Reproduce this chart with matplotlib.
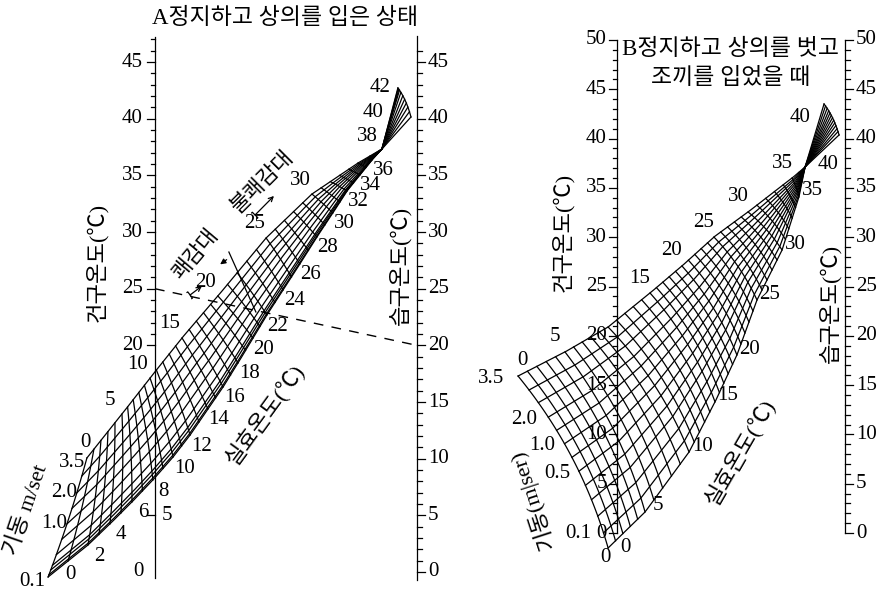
import numpy as np
import matplotlib.pyplot as plt

plt.rcParams['font.family'] = ['Liberation Serif', 'Noto Sans CJK KR']

# 가로: 건구온도 눈금 = 0, 습구온도 눈금 = 1 / 세로: 온도(℃)

# ---- A 정지하고 상의를 입은 상태 ----
# 기류 0.1 가장자리 위의 실효온도 점
a_lo_et = [0, 2, 4, 6, 8, 10, 12, 14, 16, 18, 20, 22, 24, 26, 28, 30, 32, 34, 36, 37]
a_lo_x = [-0.408, -0.256, -0.172, -0.088, -0.008, 0.069, 0.134, 0.202, 0.260, 0.317,
          0.374, 0.427, 0.489, 0.553, 0.618, 0.679, 0.733, 0.782, 0.828, 0.866]
a_lo_t = [-0.44, 2.38, 4.24, 6.18, 8.12, 10.15, 12.09, 14.39, 16.33, 18.45,
          20.65, 22.68, 24.89, 27.19, 29.57, 31.69, 33.63, 35.04, 36.37, 37.33]
# 기류 3.5 가장자리
a_up_et = [0, 5, 10, 15, 20, 25, 30, 35, 37]
a_up_x = [-0.260, -0.126, -0.019, 0.103, 0.240, 0.424, 0.599, 0.775, 0.866]
a_up_t = [10.06, 13.94, 17.12, 20.66, 24.36, 29.48, 33.36, 36.1, 37.33]
a_vel = [0.1, 0.2, 0.3, 0.4, 0.6, 0.8, 1.0, 1.5, 2.0, 2.5, 3.5]
a_vel_frac = [0, 0.02, 0.06, 0.1, 0.19, 0.32, 0.45, 0.58, 0.71, 0.85, 1.0]
a_vel_lab = [0.1, 1.0, 2.0, 3.5]
a_fan_tip = (0.927, 42.72)
a_fan_end = (0.977, 40.16)
a_fan_et = 42
a_lo_lab = list(range(0, 37, 2))
a_up_lab = [0, 5, 10, 15, 20, 25, 30]
a_fan_lab = [38, 40, 42]

# ---- B 정지하고 상의를 벗고 조끼를 입었을 때 ----
b_lo_et = [0, 5, 10, 15, 20, 25, 30, 35, 37]
b_lo_x = [-0.039, 0.123, 0.316, 0.430, 0.526, 0.614, 0.724, 0.798, 0.825]
b_lo_t = [-1.52, 2.13, 8.21, 13.29, 18.05, 23.63, 28.7, 34.08, 37.12]
b_up_et = [0, 5, 10, 15, 20, 25, 30, 35, 37]
b_up_x = [-0.434, -0.228, -0.039, 0.145, 0.285, 0.425, 0.575, 0.768, 0.825]
b_up_t = [15.92, 18.36, 20.89, 24.34, 27.08, 30.02, 32.56, 36.0, 37.12]
b_vel = [0, 0.1, 0.2, 0.3, 0.4, 0.5, 0.75, 1.0, 1.5, 2.0, 2.5, 3.0, 3.5]
b_vel_frac = [0, 0.08, 0.17, 0.26, 0.34, 0.42, 0.5, 0.58, 0.66, 0.74, 0.83, 0.91, 1.0]
b_vel_lab = [0.1, 0.5, 1.0, 2.0, 3.5]
b_fan_tip = (0.908, 43.51)
b_fan_end = (0.974, 40.37)
b_fan_et = 43
b_lo_lab = [0, 5, 10, 15, 20, 25, 30, 35]
b_up_lab = [0, 5, 15, 20, 25, 30, 35]

LW = 0.9
FS = 15


def mesh_pt(e, v, lo, up, bow, sx, sy):
    lo_et, lo_x, lo_t = lo
    up_et, up_x, up_t = up
    emax = lo_et[-1]
    lx, lt = np.interp(e, lo_et, lo_x), np.interp(e, lo_et, lo_t)
    ux, ut = np.interp(e, up_et, up_x), np.interp(e, up_et, up_t)
    dx, dy = (ux - lx) * sx, (ut - lt) * sy
    n = np.hypot(dx, dy) + 1e-9
    b = bow * (1 - e / emax)
    cx = (lx + ux) / 2 + b * dy / n / sx
    ct = (lt + ut) / 2 - b * dx / n / sy
    x = (1 - v) ** 2 * lx + 2 * v * (1 - v) * cx + v ** 2 * ux
    t = (1 - v) ** 2 * lt + 2 * v * (1 - v) * ct + v ** 2 * ut
    return x, t


def fan_pt(v, conv, tip, end, bulge, sx, sy):
    mx, mt = (tip[0] + end[0]) / 2, (tip[1] + end[1]) / 2
    dx, dy = (mx - conv[0]) * sx, (mt - conv[1]) * sy
    n = np.hypot(dx, dy)
    cx, ct = mx + bulge * dx / n / sx, mt + bulge * dy / n / sy
    x = (1 - v) ** 2 * tip[0] + 2 * v * (1 - v) * cx + v ** 2 * end[0]
    t = (1 - v) ** 2 * tip[1] + 2 * v * (1 - v) * ct + v ** 2 * end[1]
    return x, t


def draw_mesh(ax, lo, up, vfrac, bow, tip, end, bulge, sx, sy):
    emax = lo[0][-1]
    ef = np.linspace(0, emax, 300)
    vf = np.linspace(0, 1, 60)
    for v in vfrac:
        ax.plot(*mesh_pt(ef, v, lo, up, bow, sx, sy), color='k', lw=LW)
    for e in np.arange(0, emax):
        ax.plot(*mesh_pt(e, vf, lo, up, bow, sx, sy), color='k', lw=LW)
    conv = (lo[1][-1], lo[2][-1])
    for v in vfrac:
        fx, ft = fan_pt(v, conv, tip, end, bulge, sx, sy)
        ax.plot([conv[0], fx], [conv[1], ft], color='k', lw=LW)
    ax.plot(*fan_pt(vf, conv, tip, end, bulge, sx, sy), color='k', lw=LW)
    return conv


def scale(ax, x, t0, t1, ticks, side, sx, lab=None, lab_off=11):
    ax.plot([x, x], [t0, t1], color='k', lw=LW)
    for t in ticks:
        ln = 8 if t % 5 == 0 else 4.5
        ax.plot([x, x + side * ln / sx], [t, t], color='k', lw=LW)
    if lab is not None:
        for t in lab:
            ax.annotate(str(t), (x, t), xytext=(side * lab_off, 0), textcoords='offset pixels',
                        ha='left' if side > 0 else 'right', va='center', fontsize=FS)


def put(ax, txt, p, off, fs=FS, **kw):
    ax.annotate(txt, p, xytext=off, textcoords='offset pixels',
                ha='center', va='center', fontsize=fs, **kw)


fig = plt.figure(figsize=(8.83, 5.93), dpi=100)

# ---------------- A ----------------
sxa, sya = 262.0, 11.33
axa = fig.add_axes([0, 0, 1, 1])
axa.set_xlim(-155 / sxa, 728 / sxa)
axa.set_ylim(-21 / sya, 572 / sya)
axa.axis('off')

lo_a = (a_lo_et, a_lo_x, a_lo_t)
up_a = (a_up_et, a_up_x, a_up_t)
conv_a = draw_mesh(axa, lo_a, up_a, a_vel_frac, 3, a_fan_tip, a_fan_end, 4, sxa, sya)

scale(axa, 0, -0.5, 47.2, list(range(20, 48)) + [5], -1, sxa,
      lab=[20, 25, 30, 35, 40, 45], lab_off=12)
axa.annotate('5', (0, 5), xytext=(7, 0), textcoords='offset pixels',
             ha='left', va='center', fontsize=FS)
axa.annotate('0', (0, 0), xytext=(-11, 0), textcoords='offset pixels',
             ha='right', va='center', fontsize=FS)
scale(axa, 1, -0.7, 47.3, range(0, 47), 1, sxa, lab=range(0, 46, 5), lab_off=11)

for e in a_lo_lab:
    p = (np.interp(e, a_lo_et, a_lo_x), np.interp(e, a_lo_et, a_lo_t))
    put(axa, str(e), p, (22, 2) if e == 0 else (11, -11))
for e in a_up_lab:
    p = (np.interp(e, a_up_et, a_up_x), np.interp(e, a_up_et, a_up_t))
    put(axa, str(e), p, (-1, 16) if e == 0 else (-12, 14))
for e in a_fan_lab:
    f = (e - a_lo_et[-1]) / (a_fan_et - a_lo_et[-1])
    p = (conv_a[0] + f * (a_fan_tip[0] - conv_a[0]), conv_a[1] + f * (a_fan_tip[1] - conv_a[1]))
    put(axa, str(e), p, (-18, 0))
for v in a_vel_lab:
    f = a_vel_frac[a_vel.index(v)]
    p = mesh_pt(0, f, lo_a, up_a, 3, sxa, sya)
    off = {0.1: (-16, -5), 3.5: (-15, -4)}.get(v, (-13, 0))
    put(axa, f'{v:.1f}', p, off)

# 기준선 (건구 25℃ - 습구 20℃)
axa.plot([0, 1], [25, 20], color='k', lw=1.0, dashes=(7, 6))

# 쾌감대 / 불쾌감대 표시
axa.plot([0.282, 0.385], [28.24, 22.95], color='k', lw=LW)
axa.annotate('', xy=(0.240, 27.01), xytext=(0.282, 27.71),
             arrowprops=dict(arrowstyle='-|>', color='k', lw=LW, mutation_scale=8))
axa.annotate('', xy=(0.179, 25.24), xytext=(0.134, 24.45),
             arrowprops=dict(arrowstyle=']->, widthA=0.35, lengthA=0.1', color='k', lw=LW,
                             mutation_scale=8, shrinkA=0, shrinkB=0))
axa.annotate('', xy=(0.454, 33.19), xytext=(0.382, 31.51),
             arrowprops=dict(arrowstyle=']->, widthA=0.35, lengthA=0.1', color='k', lw=LW,
                             mutation_scale=8, shrinkA=0, shrinkB=0))
axa.text(0.156, 27.98, '쾌감대', rotation=50, ha='center', va='center', fontsize=15.5)
axa.text(0.412, 34.4, '불쾌감대', rotation=45, ha='center', va='center', fontsize=15.5)

axa.text(0.496, 48.9, 'A정지하고 상의를 입은 상태', ha='center', va='center', fontsize=16.5)
axa.text(-0.221, 27.3, '건구온도(℃)', rotation=90, ha='center', va='center', fontsize=16)
axa.text(0.935, 27.1, '습구온도(℃)', rotation=90, ha='center', va='center', fontsize=16)
axa.text(0.42, 13.9, '실효온도(℃)', rotation=54, ha='center', va='center', fontsize=16)
axa.text(-0.489, 5.5, '기동 m/set', rotation=71, ha='center', va='center', fontsize=16)

# ---------------- B ----------------
sxb, syb = 228.0, 9.86
axb = fig.add_axes([0, 0, 1, 1])
axb.set_xlim(-617 / sxb, 266 / sxb)
axb.set_ylim(-60 / syb, 533 / syb)
axb.axis('off')
axb.patch.set_alpha(0)

lo_b = (b_lo_et, b_lo_x, b_lo_t)
up_b = (b_up_et, b_up_x, b_up_t)
conv_b = draw_mesh(axb, lo_b, up_b, b_vel_frac, 20, b_fan_tip, b_fan_end, 4, sxb, syb)

scale(axb, 0, 0, 50, range(0, 51), -1, sxb, lab=range(0, 51, 5), lab_off=10)
scale(axb, 1, 0, 50, range(0, 51), 1, sxb, lab=range(0, 51, 5), lab_off=11)

for e in b_lo_lab:
    p = (np.interp(e, b_lo_et, b_lo_x), np.interp(e, b_lo_et, b_lo_t))
    put(axb, str(e), p, (17, 0) if e == 0 else (13, 6))
for e in b_up_lab:
    p = (np.interp(e, b_up_et, b_up_x), np.interp(e, b_up_et, b_up_t))
    put(axb, str(e), p, (4, 16) if e == 0 else (-10, 15))
put(axb, '40', b_fan_tip, (-24, -14))
mid_b = ((conv_b[0] + b_fan_end[0]) / 2, (conv_b[1] + b_fan_end[1]) / 2)
put(axb, '40', mid_b, (6, -14))
put(axb, '0', (b_lo_x[0], b_lo_t[0]), (-3, -10))
for v in b_vel_lab:
    f = b_vel_frac[b_vel.index(v)]
    off = (-25, -1) if v == 0.1 else (-17 - 10 * f, -2)
    put(axb, f'{v:.1f}', mesh_pt(0, f, lo_b, up_b, 20, sxb, syb), off)

axb.text(0.5, 49.0, 'B정지하고 상의를 벗고', ha='center', va='center', fontsize=16.5)
axb.text(0.5, 46.1, '조끼를 입었을 때', ha='center', va='center', fontsize=16.5)
axb.text(-0.237, 30.5, '건구온도(℃)', rotation=90, ha='center', va='center', fontsize=16)
axb.text(0.934, 23.3, '습구온도(℃)', rotation=90, ha='center', va='center', fontsize=16)
axb.text(0.539, 8.2, '실효온도(℃)', rotation=60, ha='center', va='center', fontsize=16)
axb.text(-0.373, 3.35, '기동(m|ser)', rotation=108, ha='center', va='center', fontsize=16)

fig.savefig('out.png', dpi=100)
